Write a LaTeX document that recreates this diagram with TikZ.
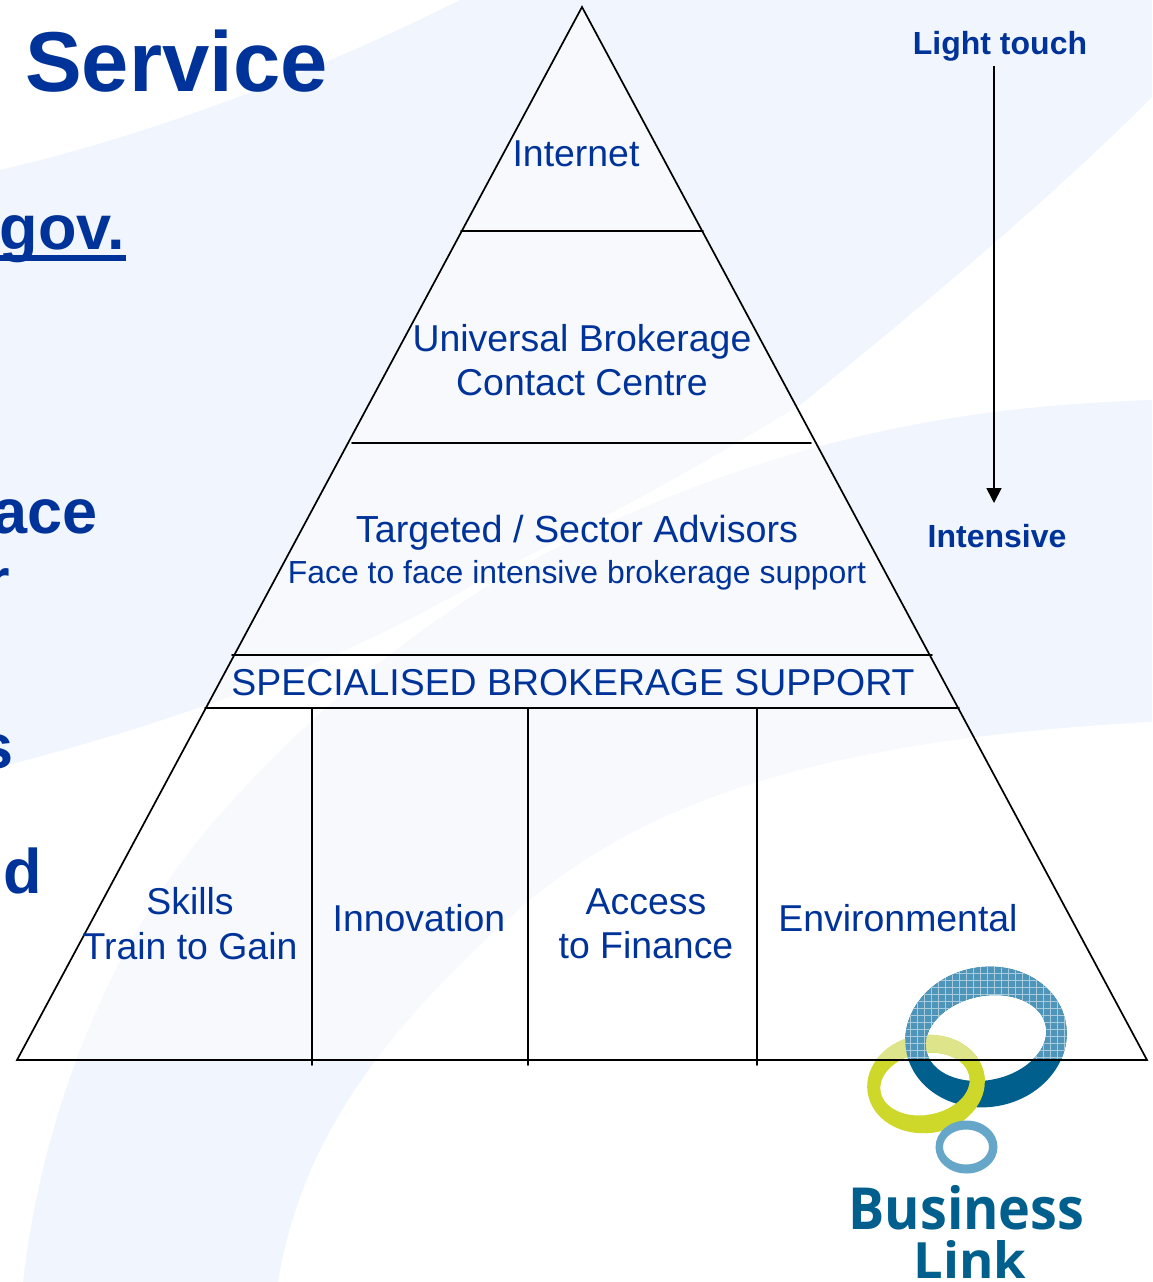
\documentclass[tikz,border=0pt]{standalone}
\usepackage{fontspec}
\setmainfont{Liberation Sans}
\newfontfamily\logofont{Open Sans}
\usetikzlibrary{arrows.meta}
\definecolor{brand}{HTML}{003399}
\definecolor{band}{HTML}{F1F5FD}
\definecolor{logoblue}{HTML}{005F8C}
\definecolor{logotop}{HTML}{4F95BA}
\definecolor{logoyellow}{HTML}{CDD82B}
\definecolor{logoyellowtop}{HTML}{DDE48A}
\definecolor{logosmall}{HTML}{66A7C9}
\newcommand{\fs}[1]{\fontsize{#1}{#1}\selectfont}
\newcommand{\bluering}{(986,1037) ellipse [x radius=81,y radius=70,rotate=10] (986,1038) ellipse [x radius=61,y radius=42,rotate=12]}
\newcommand{\yellowring}{(926,1084) ellipse [x radius=59,y radius=49,rotate=8] (925,1084) ellipse [x radius=45,y radius=31,rotate=10]}
\tikzset{
  edge/.style={draw=black,line width=1.7pt,line cap=round},
  label/.style={text=brand,font=\fs{37.4},align=center,inner sep=0pt},
  side/.style={text=brand,font=\fs{32}\bfseries,inner sep=0pt,anchor=base},
  cutoff/.style={text=brand,font=\fs{63}\bfseries,inner sep=0pt,anchor=base east},
  logotext/.style={text=logoblue,inner sep=0pt,anchor=base},
}
\begin{document}
\begin{tikzpicture}[x=1pt,y=-1pt]
\useasboundingbox (0,0) rectangle (1152,1282);
\clip (0,0) rectangle (1152,1282);
% background swooshes
\fill[band] (0,170) .. controls (170,130) and (330,65) .. (460,0) -- (1152,0) -- (1152,97)
  .. controls (1060,190) and (930,300) .. (800,405)
  .. controls (660,490) and (580,530) .. (490,575)
  .. controls (380,640) and (240,705) .. (0,767) -- cycle;
\fill[band] (1152,400) .. controls (1000,405) and (860,425) .. (700,485)
  .. controls (620,515) and (560,545) .. (505,575)
  .. controls (400,640) and (300,720) .. (204,833)
  .. controls (100,960) and (40,1130) .. (23,1282)
  -- (278,1282) .. controls (300,1150) and (370,1040) .. (527,902)
  .. controls (640,810) and (800,740) .. (1152,722) -- cycle;
% pyramid veil
\coordinate (apex) at (582,7);
\coordinate (bl) at (17,1060);
\coordinate (br) at (1147,1060);
\fill[white,opacity=.45] (apex) -- (bl) -- (br) -- cycle;
% logo
\fill[logoyellow,even odd rule] \yellowring;
\fill[logoblue,even odd rule] \bluering;
\begin{scope}
  \clip (926,1040) rectangle (1010,1140);
  \fill[logoyellow,even odd rule] \yellowring;
\end{scope}
\begin{scope}
  \clip (860,960) rectangle (1080,1060);
  \fill[logoyellowtop,even odd rule] \yellowring;
  \fill[logotop,even odd rule] \bluering;
  \begin{scope}[even odd rule]
    \clip \bluering;
    \draw[white,line width=.5pt,opacity=.5,step=7pt] (860,960) grid (1080,1060);
  \end{scope}
\end{scope}
\fill[logosmall,even odd rule] (966.5,1147) ellipse [x radius=31,y radius=26.5] (966,1147) ellipse [x radius=23,y radius=17.5];
\node[logotext,font=\logofont\fs{58}\bfseries] (bizword) at (966.5,1229) {\scalebox{.93}[1]{Business}};
\node[logotext,font=\logofont\fs{50}\bfseries] (linkword) at (970,1278) {\scalebox{1.05}[1]{Link}};
% title and cut-off words
\node[text=brand,font=\fs{85}\bfseries,inner sep=0pt,anchor=base west] (title) at (25,91.5) {Service};
\node[cutoff] (cutgov) at (125,249.5) {gov.};
\fill[brand] (0,254.5) rectangle (126,261);
\node[cutoff] (cutace) at (98,533) {ace};
\node[cutoff] (cutr) at (10,602) {r};
\node[cutoff] (cuts) at (14,768) {s};
\node[cutoff] (cutd) at (42,893.5) {nd};
% pyramid lines
\coordinate (a1) at (461,231); \coordinate (a2) at (703,231);
\coordinate (b1) at (352,443); \coordinate (b2) at (811,443);
\coordinate (c1) at (232,655); \coordinate (c2) at (932,655);
\coordinate (d1) at (205,708); \coordinate (d2) at (959,708);
\coordinate (v1) at (312,708); \coordinate (v1e) at (312,1065);
\coordinate (v2) at (528,708); \coordinate (v2e) at (528,1065);
\coordinate (v3) at (757,708); \coordinate (v3e) at (757,1065);
\draw[edge,line join=miter] (apex) -- (bl) -- (br) -- cycle;
\draw[edge] (a1) -- (a2);
\draw[edge] (b1) -- (b2);
\draw[edge] (c1) -- (c2);
\draw[edge] (d1) -- (d2);
\draw[edge] (v1) -- (v1e);
\draw[edge] (v2) -- (v2e);
\draw[edge] (v3) -- (v3e);
% labels
\node[label] (internet) at (576,154) {Internet};
\node[label] (universal) at (582,360) {Universal Brokerage\\[6.6pt]Contact Centre};
\node[label] (targeted) at (577,552.5) {{\fs{37.7}Targeted / Sector Advisors}\\[3.5pt]{\fs{31.9}Face to face intensive brokerage support}};
\node[label] (special) at (573,683) {SPECIALISED BROKERAGE SUPPORT};
\node[label] (skills) at (190,923.5) {Skills\\[7.6pt]Train to Gain};
\node[label] (innovation) at (419,918) {Innovation};
\node[label] (access) at (646,923.5) {Access\\[6.6pt]to Finance};
\node[label] (environmental) at (898,918) {Environmental};
% intensity arrow
\node[side] (light) at (1000,54) {Light touch};
\node[side] (intensive) at (997,547) {Intensive};
\coordinate (arrowstart) at (994,66);
\coordinate (arrowend) at (994,503);
\draw[line width=1.7pt,-{Triangle[length=15pt,width=15pt]}] (arrowstart) -- (arrowend);
\end{tikzpicture}
\end{document}
